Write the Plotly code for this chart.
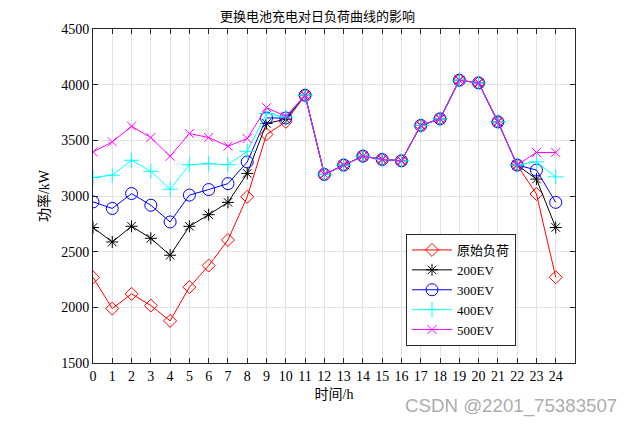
import plotly.graph_objects as go

hours = list(range(25))
base = [2270, 1989, 2121, 2016, 1878, 2181, 2375, 2605, 2993, 3553, 3666, 3905,
        3194, 3278, 3358, 3328, 3316, 3634, 3693, 4040, 4016, 3666, 3278, 3018, 2270]
ev200 = [2717, 2587, 2728, 2620, 2468, 2728, 2832, 2943, 3203, 3652, 3690, 3905,
         3194, 3278, 3358, 3328, 3316, 3634, 3693, 4040, 4016, 3666, 3278, 3152, 2717]
ev300 = [2947, 2888, 3022, 2917, 2767, 3008, 3058, 3111, 3306, 3701, 3701, 3905,
         3194, 3278, 3358, 3328, 3316, 3634, 3693, 4040, 4016, 3666, 3278, 3233, 2943]
ev400 = [3166, 3187, 3321, 3222, 3061, 3281, 3290, 3281, 3402, 3741, 3710, 3905,
         3194, 3278, 3358, 3328, 3316, 3634, 3693, 4040, 4016, 3666, 3278, 3307, 3172]
ev500 = [3396, 3486, 3627, 3525, 3357, 3561, 3525, 3447, 3516, 3794, 3716, 3905,
         3194, 3278, 3358, 3328, 3316, 3634, 3693, 4040, 4016, 3666, 3278, 3391, 3391]
names = ["原始负荷", "200EV", "300EV", "400EV", "500EV"]
series = [base, ev200, ev300, ev400, ev500]
colors = ["#ff0000", "#000000", "#0000ff", "#00ffff", "#ff00ff"]
symbols = ["diamond-open", "asterisk-open", "circle-open", "cross-thin-open", "x-thin-open"]
sizes = [10, 10, 12, 11, 9]

FONT = "Liberation Serif, Times New Roman, Noto Sans CJK SC, serif"

fig = go.Figure()
for n, y, c, s, sz in zip(names, series, colors, symbols, sizes):
    fig.add_trace(go.Scatter(
        x=hours, y=y, name=n, mode="lines+markers",
        line=dict(color=c, width=1),
        marker=dict(symbol=s, size=sz, color=c, line=dict(color=c, width=1)),
    ))

axis_common = dict(
    showgrid=True, gridcolor="#e3e3e3", gridwidth=1,
    showline=True, linecolor="#262626", linewidth=1, mirror="allticks",
    ticks="inside", ticklen=5, tickcolor="#262626",
    tickfont=dict(family=FONT, size=14, color="#000000"),
    zeroline=False, automargin=False,
)
fig.update_xaxes(range=[0, 25], tickmode="array", tickvals=hours,
                 ticktext=[str(h) for h in hours],
                 title=dict(text="时间/h", font=dict(family=FONT, size=14, color="#000"), standoff=6),
                 **axis_common)
fig.update_yaxes(range=[1500, 4500], tickmode="array",
                 tickvals=[1500, 2000, 2500, 3000, 3500, 4000, 4500],
                 title=dict(text="功率/kW", font=dict(family=FONT, size=14, color="#000"), standoff=8),
                 **axis_common)

fig.update_layout(
    width=635, height=427,
    margin=dict(l=93, r=60, t=29, b=64),
    paper_bgcolor="white", plot_bgcolor="white",
    title=dict(text="更换电池充电对日负荷曲线的影响", x=0.5, xanchor="center",
               y=1 - 16 / 427, yanchor="middle",
               font=dict(family=FONT, size=13, color="#000")),
    legend=dict(x=(406 - 93) / 482, y=(363 - 234) / 334, xanchor="left", yanchor="top",
                bgcolor="white", bordercolor="#262626", borderwidth=1,
                font=dict(family=FONT, size=13, color="#000"),
                tracegroupgap=0, itemwidth=40),
    showlegend=True,
)
fig.add_annotation(text="CSDN @2201_75383507", xref="paper", yref="paper",
                   x=(619 - 93) / 482, y=-(406 - 363) / 334, xanchor="right", yanchor="middle",
                   showarrow=False,
                   font=dict(family="Liberation Sans, Arial, sans-serif", size=18.7,
                             color="rgba(150,150,150,0.8)"))

fig.write_html("out.html", config={"displayModeBar": False},
               post_script="document.body.style.margin='0';")
